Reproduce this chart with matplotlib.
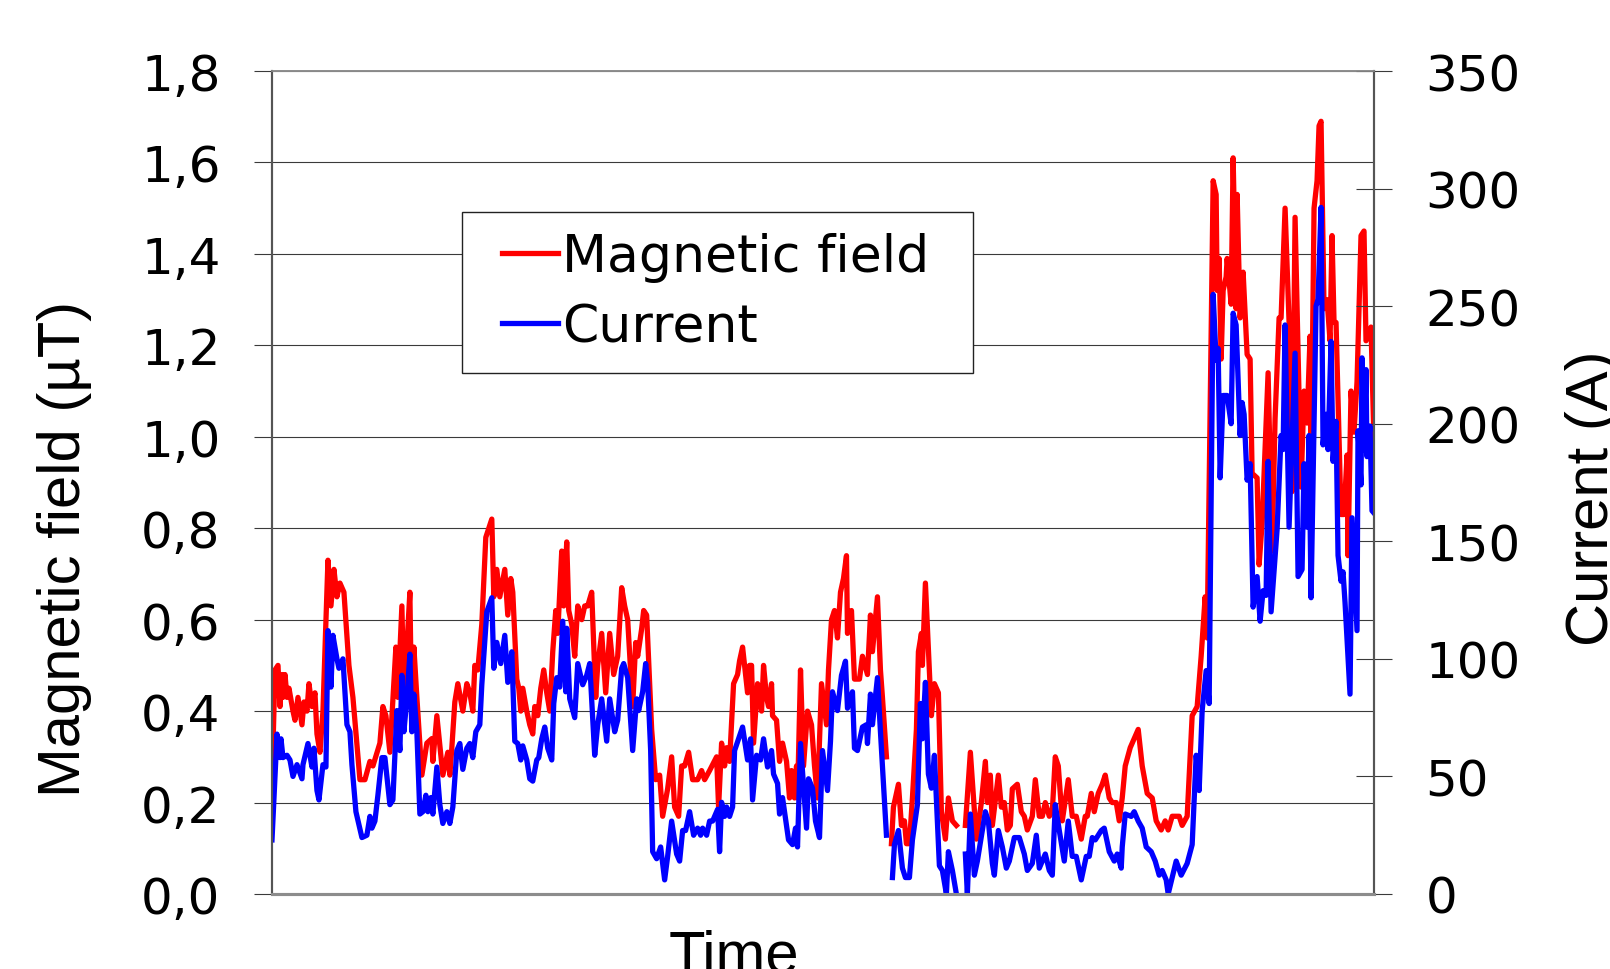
import numpy as np
import matplotlib
matplotlib.use("Agg")
import matplotlib.pyplot as plt
from matplotlib.patches import Rectangle

nan = np.nan

# magnetic field (uT) over time, gaps are missing samples
t_field = [0, 3, 6, 8, 10, 11, 13, 15, 17, 21, 23, 26, 30, 32, 35, 37, 40, 43, 45, 48,
           51, 56, 59, 62, 65, 68, 72, 77, 81, 88, 93, 98, 101, 108, 111, 114, 118, 124, 126, 130,
           132, 135, 138, 140, 142, 145, 150, 155, 160, 161, 165, 171, 176, 178, 180, 183, 186, 191, 195, 198,
           201, 203, 206, 210, 214, 220, 222, 225, 228, 233, 236, 239, 241, 245, 247, 249, 251, 255, 258, 261,
           263, 266, 269, 272, 275, 278, 281, 284, 286, 290, 292, 295, 297, 300, 303, 306, 310, 313, 316, 320,
           324, 326, 330, 334, 338, 342, 346, 350, 353, 356, 361, 364, 366, 370, 372, 375, 380, 384, 388, 391,
           396, 400, 403, 407, 410, 413, 417, 421, 426, 430, 433, 438, 445, 447, 450, 453, 455, 458, 462, 466,
           468, 471, 476, 478, 480, 482, 486, 490, 492, 495, 497, 500, 501, 505, 508, 511, 515, 518, 520, 523,
           525, 526, 529, 532, 536, 540, 543, 546, 550, 555, 557, 560, 563, 566, 569, 572, 575, 576, 580, 583,
           588, 591, 596, 599, 601, 606, 609, 611, 615, 617, 620, 622, 627, 630, 633, 635, 638, 641, 645, 647,
           650, 651, 654, 660, 663, 667, 670, 674, 677, 681, 685, 689, 694, 699, 705, 710, 714, 716, 719, 721,
           727, 730, 733, 736, 739, 741, 746, 750, 753, 756, 761, 764, 768, 771, 774, 778, 781, 784, 787, 791,
           797, 801, 805, 810, 814, 816, 820, 823, 827, 831, 834, 838, 841, 845, 848, 851, 854, 859, 863, 867,
           871, 876, 881, 885, 890, 894, 897, 901, 908, 911, 916, 921, 926, 930, 934, 936, 942, 945, 946, 948,
           950, 952, 955, 956, 960, 962, 965, 966, 969, 972, 976, 979, 981, 986, 988, 991, 997, 1001, 1004, 1008,
           1010, 1014, 1018, 1021, 1024, 1027, 1030, 1033, 1036, 1039, 1040, 1043, 1046, 1048, 1050, 1053, 1056, 1059, 1061, 1063,
           1065, 1070, 1073, 1076, 1077, 1080, 1083, 1086, 1090, 1093, 1095, 1100, 1103]
b_field = [0.24, 0.49, 0.50, 0.41, 0.48, 0.43, 0.48, 0.43, 0.45, 0.40, 0.38, 0.43, 0.37, 0.42, 0.40, 0.46, 0.41, 0.44, 0.35, 0.31,
           0.40, 0.73, 0.63, 0.71, 0.65, 0.68, 0.66, 0.50, 0.43, 0.25, 0.25, 0.29, 0.28, 0.33, 0.41, 0.39, 0.31, 0.54, 0.43, 0.63,
           0.43, 0.54, 0.66, 0.36, 0.54, 0.43, 0.26, 0.33, 0.34, 0.29, 0.39, 0.26, 0.31, 0.26, 0.32, 0.42, 0.46, 0.40, 0.46, 0.44,
           0.40, 0.50, 0.49, 0.59, 0.78, 0.82, 0.65, 0.71, 0.65, 0.71, 0.61, 0.69, 0.66, 0.47, 0.45, 0.40, 0.45, 0.40, 0.37, 0.35,
           0.41, 0.39, 0.45, 0.49, 0.44, 0.40, 0.53, 0.62, 0.57, 0.75, 0.63, 0.77, 0.62, 0.59, 0.52, 0.63, 0.60, 0.63, 0.63, 0.66,
           0.43, 0.50, 0.57, 0.44, 0.57, 0.48, 0.52, 0.67, 0.63, 0.60, 0.41, 0.55, 0.52, 0.58, 0.62, 0.61, 0.36, 0.25, 0.26, 0.17,
           0.23, 0.30, 0.19, 0.17, 0.28, 0.28, 0.31, 0.25, 0.25, 0.27, 0.25, 0.27, 0.30, 0.19, 0.33, 0.28, 0.32, 0.29, 0.46, 0.48,
           0.51, 0.54, 0.44, 0.50, 0.50, 0.33, 0.46, 0.40, 0.50, 0.43, 0.41, 0.46, 0.39, 0.38, 0.29, 0.33, 0.29, 0.21, 0.27, 0.21,
           0.28, 0.21, 0.49, 0.28, 0.40, 0.37, 0.28, 0.21, 0.46, 0.37, 0.49, 0.60, 0.62, 0.56, 0.66, 0.69, 0.74, 0.57, 0.62, 0.47,
           0.47, 0.52, 0.48, 0.61, 0.53, 0.65, 0.49, 0.43, 0.30, nan, 0.11, 0.19, 0.24, 0.15, 0.16, 0.11, 0.11, 0.21, 0.36, 0.53,
           0.57, 0.50, 0.68, 0.39, 0.46, 0.44, 0.18, 0.12, 0.21, 0.16, 0.15, nan, 0.15, 0.31, 0.12, 0.20, 0.29, 0.20, 0.26, 0.15,
           0.26, 0.19, 0.20, 0.14, 0.15, 0.23, 0.24, 0.18, 0.17, 0.14, 0.17, 0.25, 0.17, 0.17, 0.20, 0.17, 0.18, 0.30, 0.28, 0.16,
           0.25, 0.17, 0.17, 0.12, 0.17, 0.17, 0.22, 0.18, 0.22, 0.24, 0.26, 0.21, 0.20, 0.20, 0.16, 0.21, 0.28, 0.32, 0.34, 0.36,
           0.28, 0.22, 0.21, 0.16, 0.14, 0.16, 0.14, 0.17, 0.17, 0.15, 0.17, 0.39, 0.41, 0.52, 0.65, 0.56, 1.56, 1.53, 1.32, 1.39,
           1.17, 1.32, 1.35, 1.39, 1.29, 1.61, 1.28, 1.53, 1.26, 1.36, 1.18, 1.17, 0.92, 0.91, 0.72, 0.81, 1.14, 0.75, 1.04, 1.26,
           1.26, 1.50, 1.25, 0.88, 1.48, 1.19, 0.89, 1.10, 1.03, 1.22, 0.92, 1.50, 1.56, 1.68, 1.69, 1.28, 1.30, 1.21, 1.44, 1.25,
           1.25, 0.83, 0.83, 0.96, 0.74, 1.10, 1.01, 1.12, 1.44, 1.45, 1.21, 1.24, 0.99]

# current (A) over time
t_current = [0, 5, 8, 9, 11, 15, 18, 21, 25, 30, 31, 36, 40, 42, 45, 47, 51, 54, 56, 59,
             61, 65, 67, 71, 75, 78, 80, 84, 90, 95, 98, 100, 103, 106, 110, 113, 118, 121, 125, 128,
             130, 132, 135, 138, 140, 142, 145, 148, 151, 154, 156, 159, 161, 165, 168, 171, 175, 178, 181, 185,
             188, 191, 195, 198, 201, 204, 208, 210, 215, 220, 222, 225, 229, 233, 236, 240, 243, 246, 249, 251,
             255, 258, 261, 265, 267, 270, 273, 276, 280, 282, 285, 288, 291, 294, 295, 298, 303, 306, 311, 315,
             318, 323, 326, 330, 335, 338, 343, 346, 350, 352, 356, 361, 365, 367, 371, 374, 376, 379, 381, 385,
             389, 393, 396, 400, 405, 408, 411, 414, 418, 422, 426, 429, 431, 435, 438, 441, 446, 448, 450, 453,
             455, 458, 461, 463, 467, 471, 476, 479, 481, 485, 489, 492, 496, 500, 502, 506, 508, 511, 517, 521,
             524, 526, 529, 535, 537, 541, 544, 548, 551, 556, 559, 561, 566, 570, 574, 576, 581, 583, 586, 591,
             595, 596, 599, 601, 606, 609, 615, 617, 621, 623, 627, 631, 634, 638, 641, 646, 649, 651, 654, 657,
             660, 663, 668, 671, 675, 677, 681, 685, 689, 694, 696, 699, 703, 706, 714, 717, 721, 723, 727, 731,
             735, 738, 743, 748, 753, 756, 761, 765, 768, 774, 778, 781, 784, 788, 793, 797, 801, 805, 810, 815,
             818, 821, 824, 830, 833, 838, 843, 846, 850, 851, 854, 860, 863, 867, 871, 875, 880, 884, 888, 891,
             895, 897, 905, 910, 916, 921, 925, 928, 931, 935, 938, 942, 945, 947, 949, 952, 956, 960, 962, 965,
             969, 971, 973, 976, 979, 982, 986, 989, 992, 995, 997, 1000, 1006, 1010, 1012, 1014, 1018, 1024, 1027, 1031,
             1033, 1036, 1038, 1040, 1045, 1047, 1050, 1052, 1055, 1057, 1060, 1062, 1065, 1067, 1070, 1072, 1074, 1079, 1081, 1086,
             1087, 1090, 1091, 1093, 1095, 1096, 1099, 1101, 1103]
current = [23, 68, 58, 66, 58, 59, 57, 50, 55, 49, 55, 64, 54, 62, 44, 40, 55, 54, 112, 88,
           110, 100, 96, 100, 72, 69, 55, 35, 24, 25, 33, 28, 31, 42, 58, 58, 38, 40, 78, 61,
           93, 69, 83, 102, 69, 85, 69, 34, 35, 42, 35, 41, 34, 54, 38, 30, 35, 30, 37, 61,
           64, 53, 62, 64, 58, 69, 72, 89, 120, 126, 96, 107, 98, 110, 90, 103, 65, 64, 57, 63,
           57, 49, 48, 57, 58, 66, 71, 62, 57, 81, 92, 88, 116, 86, 113, 83, 75, 98, 89, 93,
           98, 59, 72, 83, 65, 83, 69, 74, 96, 98, 92, 61, 83, 78, 86, 98, 90, 61, 18, 15,
           20, 6, 16, 31, 17, 14, 27, 27, 35, 25, 28, 25, 28, 25, 31, 31, 36, 18, 39, 33,
           37, 33, 37, 61, 66, 71, 57, 66, 40, 59, 57, 66, 54, 61, 51, 47, 34, 41, 23, 21,
           28, 20, 64, 28, 49, 45, 31, 24, 61, 44, 65, 86, 78, 93, 99, 79, 86, 62, 61, 71,
           72, 64, 85, 72, 92, 69, 25, nan, 7, 21, 27, 11, 7, 7, 23, 38, 81, 66, 90, 51,
           45, 59, 12, 10, 0, 18, 10, 0, nan, 17, 0, 34, 8, 14, 35, 31, 13, 8, 27, 20,
           11, 14, 24, 24, 17, 10, 13, 25, 11, 17, 10, 8, 38, 27, 14, 31, 16, 16, 6, 16,
           16, 24, 23, 27, 28, 18, 14, 17, 11, 20, 34, 33, 35, 31, 28, 20, 18, 14, 8, 10,
           6, 0, 14, 8, 13, 21, 59, 44, 78, 95, 81, 255, 227, 232, 177, 212, 212, 200, 247, 242,
           195, 209, 204, 176, 183, 122, 135, 116, 129, 127, 184, 120, 155, 195, 189, 242, 156, 230, 135, 138,
           183, 156, 195, 126, 250, 253, 292, 191, 204, 189, 235, 184, 201, 144, 133, 137, 124, 85, 160, 112,
           197, 174, 228, 189, 223, 186, 199, 163, 162]

field_ticks = [0.0, 0.2, 0.4, 0.6, 0.8, 1.0, 1.2, 1.4, 1.6, 1.8]
current_ticks = [0, 50, 100, 150, 200, 250, 300, 350]

fig = plt.figure(figsize=(16.1, 9.7), dpi=100)
ax = fig.add_axes([272 / 1610, 75 / 970, 1102 / 1610, 823 / 970])
ax2 = ax.twinx()

l1, = ax.plot(t_field, b_field, color="#ff0000", lw=3.8, label="Magnetic field")
l2, = ax2.plot(t_current, current, color="#0000ff", lw=3.8, label="Current")

ax.set_xlim(0, 1103)
ax.set_ylim(0, 1.8)
ax2.set_ylim(0, 350)
ax.set_xticks([])

ax.set_yticks(field_ticks)
ax.set_yticklabels([("%.1f" % v).replace(".", ",") for v in field_ticks])
ax2.set_yticks(current_ticks)
ax2.set_yticklabels([str(v) for v in current_ticks])

ax.grid(axis="y", color="#3a3a3a", lw=0.8)
ax.set_axisbelow(True)

ax.tick_params(axis="y", direction="out", length=13, width=0.8, color="#3a3a3a", labelsize=36, pad=24)
ax2.tick_params(axis="y", direction="inout", length=26, width=0.8, color="#3a3a3a", labelsize=36, pad=24)

for a in (ax, ax2):
    a.spines["left"].set_color("#555555")
    a.spines["left"].set_linewidth(1.5)
    a.spines["right"].set_color("#555555")
    a.spines["right"].set_linewidth(1.5)
    a.spines["bottom"].set_color("#8c8c8c")
    a.spines["bottom"].set_linewidth(2.2)
    a.spines["top"].set_color("#8c8c8c")
    a.spines["top"].set_linewidth(1.2)

lab_font = {"family": "Liberation Sans", "size": 43}
ax.set_ylabel("Magnetic field (µT)", fontdict=lab_font)
ax.yaxis.set_label_coords(-0.163, 0.421)
ax2.set_ylabel("Current (A)", fontdict=lab_font)
ax2.yaxis.set_label_coords(1.173, 0.482)
ax.set_xlabel("Time", fontdict=lab_font)
ax.xaxis.set_label_coords(0.419, -0.0425)

# legend: plain box, entries drawn on top of it
frame = Rectangle((0.172, 0.633), 0.464, 0.196, transform=ax2.transAxes,
                  facecolor="white", edgecolor="#222222", lw=1.0, zorder=4)
ax2.add_patch(frame)
leg = ax2.legend([l1, l2], ["Magnetic field", "Current"], loc="center left",
                 bbox_to_anchor=(0.209, 0.731), frameon=False, fontsize=37.5,
                 handlelength=1.06, handletextpad=0.08, labelspacing=0.38,
                 borderpad=0, borderaxespad=0)
leg.set_zorder(5)

plt.savefig("out.png", dpi=100)
plt.close()
